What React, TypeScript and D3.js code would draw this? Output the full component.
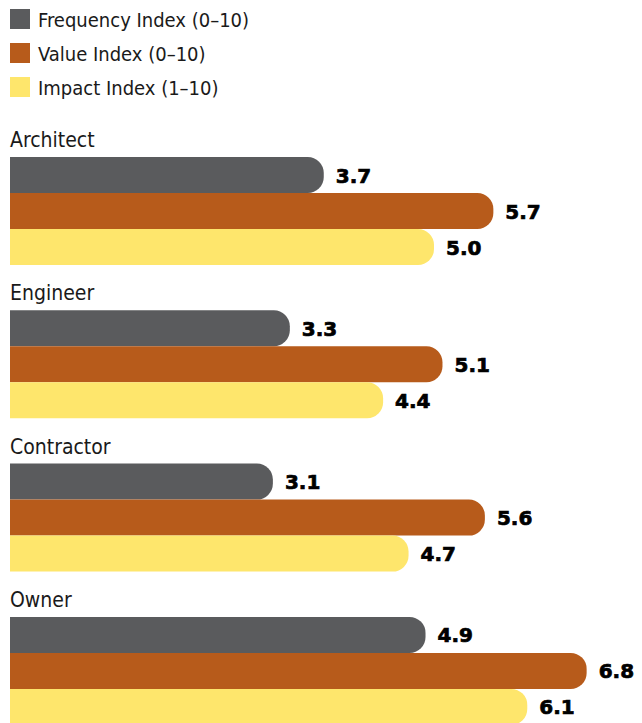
import React from "react";
import * as d3 from "d3";

const categories = ["Architect", "Engineer", "Contractor", "Owner"];
const seriesNames = ["Frequency Index (0–10)", "Value Index (0–10)", "Impact Index (1–10)"];
const frequency = [3.7, 3.3, 3.1, 4.9];
const valueIdx = [5.7, 5.1, 5.6, 6.8];
const impact = [5.0, 4.4, 4.7, 6.1];
const colors = ["#5a5b5d", "#b75b1b", "#fee66c"];

const W = 642;
const H = 723;
const series = [frequency, valueIdx, impact];

function barPath(x0: number, x1: number, y: number, h: number, r: number) {
  const rr = Math.min(r, (x1 - x0) / 2, h / 2);
  return `M${x0},${y}H${x1 - rr}A${rr},${rr} 0 0 1 ${x1},${y + rr}V${y + h - rr}A${rr},${rr} 0 0 1 ${x1 - rr},${y + h}H${x0}Z`;
}

export default function App() {
  const x = d3.scaleLinear().domain([0, 7]).range([10, 10 + 7 * 84.8]);
  const group = d3.scaleBand<string>().domain(categories).range([157, 157 + 4 * 153.3]).paddingInner(0).paddingOuter(0);
  const barH = 36;
  const labelFont = "'DejaVu Sans Condensed', 'DejaVu Sans', sans-serif";
  return (
    <svg width={W} height={H} style={{ position: "absolute", left: 0, top: 0, background: "#fff" }}>
      <rect x={0} y={0} width={W} height={H} fill="#fff" />
      {seriesNames.map((s, i) => (
        <g key={s}>
          <rect x={10} y={9 + i * 34} width={20} height={20} fill={colors[i]} />
          <text x={38} y={26.5 + i * 34} fontFamily={labelFont} fontStretch="condensed" fontSize={20} fill="#1a1a1a">
            {s}
          </text>
        </g>
      ))}
      {categories.map((c, ci) => {
        const gy = group(c)!;
        return (
          <g key={c}>
            <text x={10} y={gy - 10} fontFamily={labelFont} fontStretch="condensed" fontSize={21} fill="#1a1a1a">
              {c}
            </text>
            {series.map((vals, si) => {
              const y = gy + si * barH;
              const x1 = x(vals[ci]);
              return (
                <g key={si}>
                  <path d={barPath(x(0), x1, y, barH, 16)} fill={colors[si]} />
                  <text
                    x={x1 + 12}
                    y={y + barH / 2 + 7.5}
                    fontFamily="'DejaVu Sans', sans-serif"
                    fontWeight="bold"
                    fontSize={20}
                    fill="#000"
                    stroke="#000"
                    strokeWidth={0.7}
                  >
                    {vals[ci].toFixed(1)}
                  </text>
                </g>
              );
            })}
          </g>
        );
      })}
    </svg>
  );
}
